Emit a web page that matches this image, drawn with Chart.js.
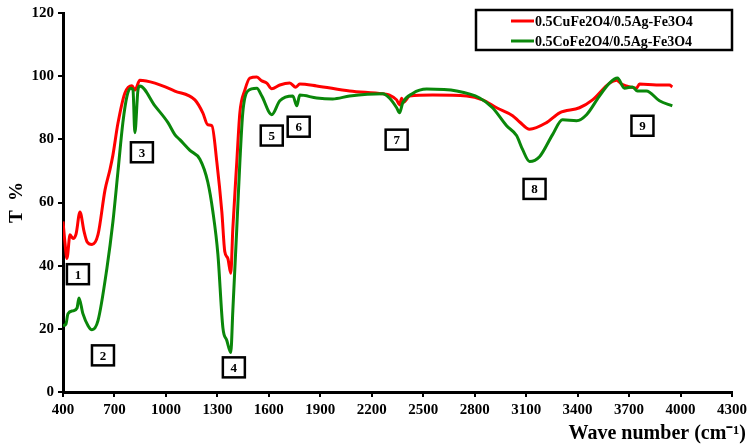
<!DOCTYPE html>
<html>
<head>
<meta charset="utf-8">
<script src="https://cdn.jsdelivr.net/npm/chart.js@4.4.0/dist/chart.umd.min.js"></script>
<style>
  html, body { margin: 0; padding: 0; background: #fff; }
  #wrap { width: 751px; height: 444px; }
</style>
</head>
<body>
<div id="wrap"><canvas id="ftirChart" width="751" height="444"></canvas></div>
<script>
// Series labels
const seriesNames = ['0.5CuFe2O4/0.5Ag-Fe3O4', '0.5CoFe2O4/0.5Ag-Fe3O4'];
const seriesColors = ['#ff0000', '#0a870a'];

// Cu sample (red) - wave number / transmittance
const cuWave = [400, 412, 423, 441, 458, 476, 499, 522, 540, 569, 604, 645, 674, 691, 720, 761, 802, 819, 848,
  936, 1052, 1169, 1215, 1244, 1268, 1297, 1326, 1343, 1361, 1378, 1390, 1413, 1431, 1460, 1489, 1530, 1559,
  1588, 1617, 1664, 1722, 1757, 1780, 1879, 2071, 2264, 2304, 2345, 2362, 2374, 2386, 2421, 2555, 2753, 2846,
  2928, 3021, 3062, 3120, 3219, 3295, 3411, 3487, 3586, 3627, 3656, 3685, 3743, 3761, 3859, 3935, 3952];
const cuT = [54, 47, 42.3, 49.8, 48.6, 50, 57, 51, 47.6, 46.7, 49.8, 64, 70.5, 75, 85, 94.7, 97, 95.6, 98.7,
  97.8, 95.3, 92.5, 88.4, 84.6, 84.3, 72.7, 57, 44.5, 42.3, 37.6, 51.7, 72.7, 88.4, 95.6, 99.4, 99.7, 98.5,
  97.8, 96, 97.2, 97.8, 96.5, 97.5, 96.9, 95.3, 94.4, 94, 92.5, 90.9, 93, 91.8, 93.7, 94, 93.7, 92.5,
  90, 87.5, 85.5, 83.2, 85.3, 88.4, 90, 92.5, 97.8, 98.7, 97.5, 96.9, 96.2, 97.5, 97.2, 97.2, 96.6];

// Co sample (green)
const coWave = [400, 417, 429, 458, 482, 493, 516, 546, 569, 604, 656, 691, 720, 749, 773, 796, 808, 819, 837,
  848, 936, 1012, 1052, 1081, 1140, 1198, 1244, 1274, 1303, 1332, 1355, 1378, 1390, 1413, 1431, 1448, 1477,
  1530, 1559, 1617, 1664, 1740, 1763, 1780, 1879, 1972, 2071, 2264, 2304, 2345, 2362, 2380, 2438, 2520, 2695,
  2829, 2904, 2986, 3044, 3079, 3120, 3178, 3254, 3312, 3394, 3452, 3527, 3586, 3632, 3673, 3720, 3749, 3801,
  3877, 3952];
const coT = [21, 21.5, 24.8, 25.7, 26.6, 29.8, 24.8, 21, 19.7, 22.6, 39.2, 53.9, 69.6, 85.3, 93.7, 96.2, 95.6, 82.1, 95.6,
  96.9, 90.6, 85.3, 81.5, 79.9, 76.5, 73.7, 66.5, 57, 43.6, 20.4, 16.3, 12.5, 25.7, 51.7, 72.7, 88.4, 95.3,
  96.2, 93.7, 87.8, 92.2, 93.7, 90.6, 94, 93.1, 92.8, 93.7, 94.4, 93, 90, 88.4, 91.5, 94.5, 95.9, 95.3,
  93.1, 90, 84.3, 81.2, 76.8, 73, 74.5, 81.5, 86.2, 85.9, 87.8, 93.7, 97.8, 99.4, 96.2, 96.6, 95.3, 95.3,
  92.2, 90.6];

// Numbered band markers (wave number, T)
const markerText = ['1', '2', '3', '4', '5', '6', '7', '8', '9'];
const markerWave = [487, 633, 860, 1396, 1617, 1774, 2345, 3149, 3778];
const markerT = [37.3, 11.6, 75.9, 7.8, 81.2, 84, 79.9, 64.3, 84.3];

const serif = '"Liberation Serif", "Times New Roman", serif';

function toPoints(xs, ys) {
  return xs.map(function(x, i) { return { x: x, y: ys[i] }; });
}

// Draw the boxed band numbers, the framed legend and the x title
const boxesPlugin = {
  id: 'boxes',
  afterDatasetsDraw: function(chart) {
    const ctx = chart.ctx;
    const xs = chart.scales.x;
    const ys = chart.scales.y;
    ctx.save();
    ctx.font = 'bold 13px ' + serif;
    ctx.textAlign = 'center';
    ctx.textBaseline = 'middle';
    markerText.forEach(function(t, i) {
      const cx = xs.getPixelForValue(markerWave[i]);
      const cy = ys.getPixelForValue(markerT[i]);
      ctx.fillStyle = '#fff';
      ctx.fillRect(cx - 11, cy - 10, 22, 20);
      ctx.lineWidth = 2.5;
      ctx.strokeStyle = '#000';
      ctx.strokeRect(cx - 11, cy - 10, 22, 20);
      ctx.fillStyle = '#000';
      ctx.fillText(t, cx, cy + 1);
    });

    // legend box
    ctx.fillStyle = '#fff';
    ctx.fillRect(476, 10, 256, 40);
    ctx.lineWidth = 2.5;
    ctx.strokeStyle = '#000';
    ctx.strokeRect(476, 10, 256, 40);
    ctx.textAlign = 'left';
    ctx.font = 'bold 14px ' + serif;
    seriesNames.forEach(function(name, i) {
      const y = 21 + i * 20;
      ctx.strokeStyle = seriesColors[i];
      ctx.lineWidth = 3;
      ctx.beginPath();
      ctx.moveTo(511, y);
      ctx.lineTo(534, y);
      ctx.stroke();
      ctx.fillStyle = '#000';
      ctx.fillText(name, 535, y + 1);
    });

    // x axis title, right aligned under the axis end
    ctx.textAlign = 'right';
    ctx.textBaseline = 'alphabetic';
    ctx.font = 'bold 20px ' + serif;
    ctx.fillText('Wave number (cm\u207B\u00B9)', 746, 439);
    ctx.restore();
  }
};

const ctx = document.getElementById('ftirChart').getContext('2d');
const ftirChart = new Chart(ctx, {
  type: 'line',
  data: {
    datasets: [
      {
        label: seriesNames[0],
        data: toPoints(cuWave, cuT),
        borderColor: seriesColors[0],
        borderWidth: 3,
        pointRadius: 0,
        cubicInterpolationMode: 'monotone',
        order: 1
      },
      {
        label: seriesNames[1],
        data: toPoints(coWave, coT),
        borderColor: seriesColors[1],
        borderWidth: 3,
        pointRadius: 0,
        cubicInterpolationMode: 'monotone',
        order: 0
      }
    ]
  },
  options: {
    responsive: false,
    animation: false,
    layout: {
      padding: { left: 0, right: 18, top: 10, bottom: 0 }
    },
    plugins: {
      legend: { display: false },
      tooltip: { enabled: false }
    },
    scales: {
      x: {
        type: 'linear',
        min: 400,
        max: 4300,
        afterFit: function(scale) { scale.height = 52; },
        afterBuildTicks: function(scale) {
          const t = [];
          for (let v = 400; v <= 4300; v += 300) t.push({ value: v });
          scale.ticks = t;
        },
        border: { color: '#000', width: 3 },
        grid: { display: true, drawOnChartArea: false, color: '#000', lineWidth: 2, tickLength: 5 },
        ticks: {
          color: '#000',
          padding: 4,
          maxRotation: 0,
          callback: function(value) { return String(value); },
          font: { family: serif, size: 15, weight: 'bold' }
        }
      },
      y: {
        min: 0,
        max: 120,
        afterFit: function(scale) { scale.width = 63; },
        border: { color: '#000', width: 3 },
        grid: { display: true, drawOnChartArea: false, color: '#000', lineWidth: 2, tickLength: 5 },
        ticks: {
          stepSize: 20,
          color: '#000',
          padding: 4,
          callback: function(value) { return String(value); },
          font: { family: serif, size: 15, weight: 'bold' }
        },
        title: {
          display: true,
          text: 'T  %',
          color: '#000',
          padding: { top: 6, bottom: 0 },
          font: { family: serif, size: 19, weight: 'bold' }
        }
      }
    }
  },
  plugins: [boxesPlugin]
});
</script>
</body>
</html>
